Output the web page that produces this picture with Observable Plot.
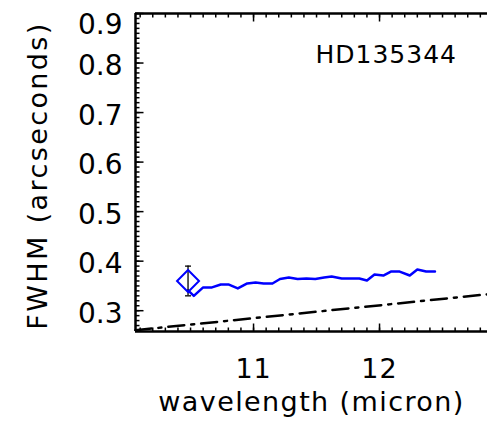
<!DOCTYPE html>
<html>
<head>
<meta charset="utf-8">
<script src="https://cdn.jsdelivr.net/npm/d3@7"></script>
<script src="https://cdn.jsdelivr.net/npm/@observablehq/plot@0.6"></script>
<style>
  html, body { margin: 0; padding: 0; background: white; }
  #chart svg { display: block; }
</style>
</head>
<body>
<div id="chart"></div>
<script>
// ---- data ----
const wavelength = [10.48, 10.526, 10.60, 10.67, 10.74, 10.80, 10.875, 10.95, 11.016, 11.08,
                    11.15, 11.21, 11.28, 11.35, 11.42, 11.49, 11.56, 11.62, 11.70, 11.77,
                    11.84, 11.90, 11.96, 12.03, 12.09, 12.16, 12.24, 12.30, 12.37, 12.44];
const fwhm = [0.341, 0.330, 0.347, 0.347, 0.353, 0.353, 0.345, 0.355, 0.357, 0.355,
              0.355, 0.364, 0.367, 0.364, 0.365, 0.364, 0.367, 0.369, 0.365, 0.365,
              0.365, 0.361, 0.373, 0.371, 0.379, 0.379, 0.371, 0.383, 0.379, 0.379];
const pointWave = [10.48];
const pointFwhm = [0.36];
const pointErr = [0.03];
const diffWave = [10.063, 12.857];
const diffFwhm = [0.2606, 0.3331];
const starName = "HD135344";
const xDomain = [10.063, 12.857];
const yDomain = [0.258, 0.9];
const xMajor = [11, 12];
const yMajor = [0.3, 0.4, 0.5, 0.6, 0.7, 0.8, 0.9];
const xLabel = "wavelength (micron)";
const yLabel = "FWHM (arcseconds)";

// minor tick positions (every 0.1 micron, every 0.01 arcsec)
const xMinor = d3.range(101, 129).map(v => v / 10).filter(v => v >= xDomain[0] && v <= xDomain[1]);
const yMinor = d3.range(26, 91).map(v => v / 100);

const series = wavelength.map((w, i) => ({w, f: fwhm[i]}));
const points = pointWave.map((w, i) => ({w, f: pointFwhm[i], lo: pointFwhm[i] - pointErr[i], hi: pointFwhm[i] + pointErr[i]}));
const diff = diffWave.map((w, i) => ({w, f: diffFwhm[i]}));

// custom symbols: tick segments in pixel units
const seg = (dx, dy) => ({draw(ctx) { ctx.moveTo(0, 0); ctx.lineTo(dx, dy); }});
const hcap = {draw(ctx) { ctx.moveTo(-3, 0); ctx.lineTo(3, 0); }};

const font = "DejaVu Sans";

const chart = Plot.plot({
  width: 487,
  height: 430,
  marginLeft: 135,
  marginRight: 0,
  marginTop: 13,
  marginBottom: 99,
  x: {domain: xDomain, axis: null},
  y: {domain: yDomain, axis: null},
  style: {fontFamily: font, background: "white", color: "black", overflow: "visible"},
  marks: [
    // inward ticks
    Plot.dot(yMinor, {y: d => d, frameAnchor: "left", symbol: seg(4, 0), r: 1, stroke: "black", strokeWidth: 1.5, fill: "none"}),
    Plot.dot(yMajor, {y: d => d, frameAnchor: "left", symbol: seg(8, 0), r: 1, stroke: "black", strokeWidth: 1.5, fill: "none"}),
    Plot.dot(xMinor, {x: d => d, frameAnchor: "bottom", symbol: seg(0, -4), r: 1, stroke: "black", strokeWidth: 1.5, fill: "none"}),
    Plot.dot(xMajor, {x: d => d, frameAnchor: "bottom", symbol: seg(0, -8), r: 1, stroke: "black", strokeWidth: 1.5, fill: "none"}),
    Plot.dot(xMinor, {x: d => d, frameAnchor: "top", symbol: seg(0, 4), r: 1, stroke: "black", strokeWidth: 1.5, fill: "none"}),
    Plot.dot(xMajor, {x: d => d, frameAnchor: "top", symbol: seg(0, 8), r: 1, stroke: "black", strokeWidth: 1.5, fill: "none"}),
    // frame (left, top, bottom)
    Plot.ruleX([xDomain[0]], {stroke: "black", strokeWidth: 2.5}),
    Plot.ruleY([yDomain[1]], {stroke: "black", strokeWidth: 2.5}),
    Plot.ruleY([yDomain[0]], {stroke: "black", strokeWidth: 2.5}),
    // tick labels
    Plot.text(yMajor.filter(v => v < 0.85), {y: d => d, text: d => d.toFixed(1), frameAnchor: "left", textAnchor: "end", dx: -13, dy: 3, fontSize: 28, fill: "black"}),
    Plot.text(yMajor.filter(v => v > 0.85), {y: d => d, text: d => d.toFixed(1), frameAnchor: "left", textAnchor: "end", dx: -13, dy: 12, fontSize: 28, fill: "black"}),
    Plot.text(xMajor, {x: d => d, text: d => String(d), frameAnchor: "bottom", lineAnchor: "top", dy: 27, fontSize: 27, fill: "black"}),
    // axis titles
    Plot.text([xLabel], {text: d => d, frameAnchor: "bottom", textAnchor: "middle", lineAnchor: "top", dy: 60, fontSize: 27, fill: "black"}),
    Plot.text([yLabel], {text: d => d, frameAnchor: "left", textAnchor: "middle", rotate: -90, lineAnchor: "middle", dx: -97, dy: 3, fontSize: 27, fill: "black"}),
    // star name
    Plot.text([starName], {text: d => d, frameAnchor: "top-left", textAnchor: "start", lineAnchor: "top", dx: 180, dy: 32, fontSize: 25, fill: "black"}),
    // diffraction limit (dash-dot)
    Plot.line(diff, {x: "w", y: "f", stroke: "black", strokeWidth: 2.5, strokeDasharray: "16,7,3,7"}),
    // measured FWHM
    Plot.line(series, {x: "w", y: "f", stroke: "#0000ff", strokeWidth: 2.5}),
    // single measurement with error bar
    Plot.ruleX(points, {x: "w", y1: "lo", y2: "hi", stroke: "black", strokeWidth: 1.3}),
    Plot.dot(points, {x: "w", y: "lo", symbol: hcap, r: 1, stroke: "black", strokeWidth: 1.3, fill: "none"}),
    Plot.dot(points, {x: "w", y: "hi", symbol: hcap, r: 1, stroke: "black", strokeWidth: 1.3, fill: "none"}),
    Plot.dot(points, {x: "w", y: "f", symbol: "diamond2", r: 9.9, stroke: "#0000ff", strokeWidth: 2, fill: "none"})
  ]
});

// widen letter spacing of the wide geometric font used in the reference
const spacing = new Map([[xLabel, "1.4px"], [yLabel, "2.4px"], [starName, "1px"], ["11", "1px"], ["12", "1px"]]);
d3.select(chart).selectAll("text").each(function () {
  const s = spacing.get(this.textContent);
  if (s) this.style.letterSpacing = s;
});
document.getElementById("chart").appendChild(chart);
</script>
</body>
</html>
